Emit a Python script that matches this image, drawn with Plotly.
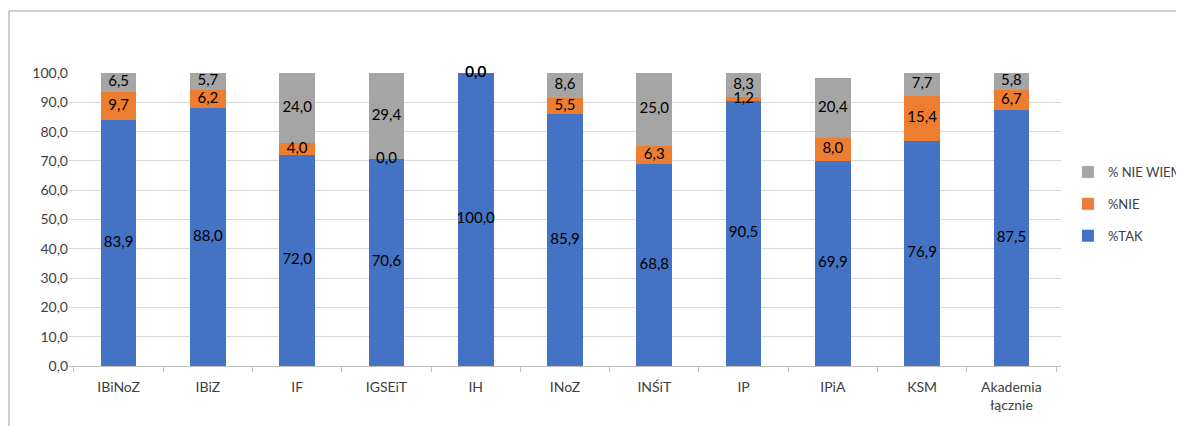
import plotly.graph_objects as go

categories = ["IBiNoZ", "IBiZ", "IF", "IGSEiT", "IH", "INoZ", "INŚiT", "IP", "IPiA", "KSM", "Akademia<br>łącznie"]
tak = [83.9, 88.0, 72.0, 70.6, 100.0, 85.9, 68.8, 90.5, 69.9, 76.9, 87.5]
nie = [9.7, 6.2, 4.0, 0.0, 0.0, 5.5, 6.3, 1.2, 8.0, 15.4, 6.7]
nie_wiem = [6.5, 5.7, 24.0, 29.4, 0.0, 8.6, 25.0, 8.3, 20.4, 7.7, 5.8]

series = [("%TAK", tak, "#4472C4", 3), ("%NIE", nie, "#ED7D31", 2), ("% NIE WIEM", nie_wiem, "#A5A5A5", 1)]

FONT = "Lato"
fig = go.Figure()
base = [0.0] * len(categories)
for name, vals, color, rank in series:
    fig.add_trace(go.Bar(x=categories, y=vals, name=name, marker_color=color,
                         marker_line_width=0, legendgroup=name, legendrank=rank))
    mids = [b + v / 2 for b, v in zip(base, vals)]
    fig.add_trace(go.Scatter(x=categories, y=mids, mode="text",
                             text=[f"{v:.1f}".replace(".", ",") for v in vals],
                             textfont=dict(family=FONT, size=15, color="#000000"),
                             showlegend=False, hoverinfo="skip", cliponaxis=False))
    base = [b + v for b, v in zip(base, vals)]

fig.update_layout(
    width=1176, height=418,
    barmode="stack", bargap=0.6,
    separators=",.",
    plot_bgcolor="white", paper_bgcolor="white",
    font=dict(family=FONT, size=14, color="#404040"),
    margin=dict(l=61, r=123, t=65, b=60, autoexpand=False),
    legend=dict(x=1.007, xanchor="left", y=0.553, yanchor="middle",
                traceorder="grouped", tracegroupgap=12,
                font=dict(family=FONT, size=13, color="#404040")),
    shapes=[dict(type="rect", xref="paper", yref="paper", x0=-0.0605, x1=1.14,
                 y0=-0.3, y1=1.2116, line=dict(color="#A0A0A0", width=1),
                 layer="below")],
)
fig.update_xaxes(showline=True, linecolor="#BFBFBF", linewidth=1,
                 ticks="outside", tickson="boundaries", ticklen=5, tickcolor="#BFBFBF",
                 ticklabelstandoff=8,
                 tickfont=dict(family=FONT, size=14, color="#404040"))
fig.update_yaxes(range=[0, 100], dtick=10, tickformat=".1f",
                 showgrid=True, gridcolor="#D9D9D9", gridwidth=1,
                 zeroline=False, showline=False,
                 tickfont=dict(family=FONT, size=14, color="#404040"))

fig.write_html("out.html", config={"displayModeBar": False})
